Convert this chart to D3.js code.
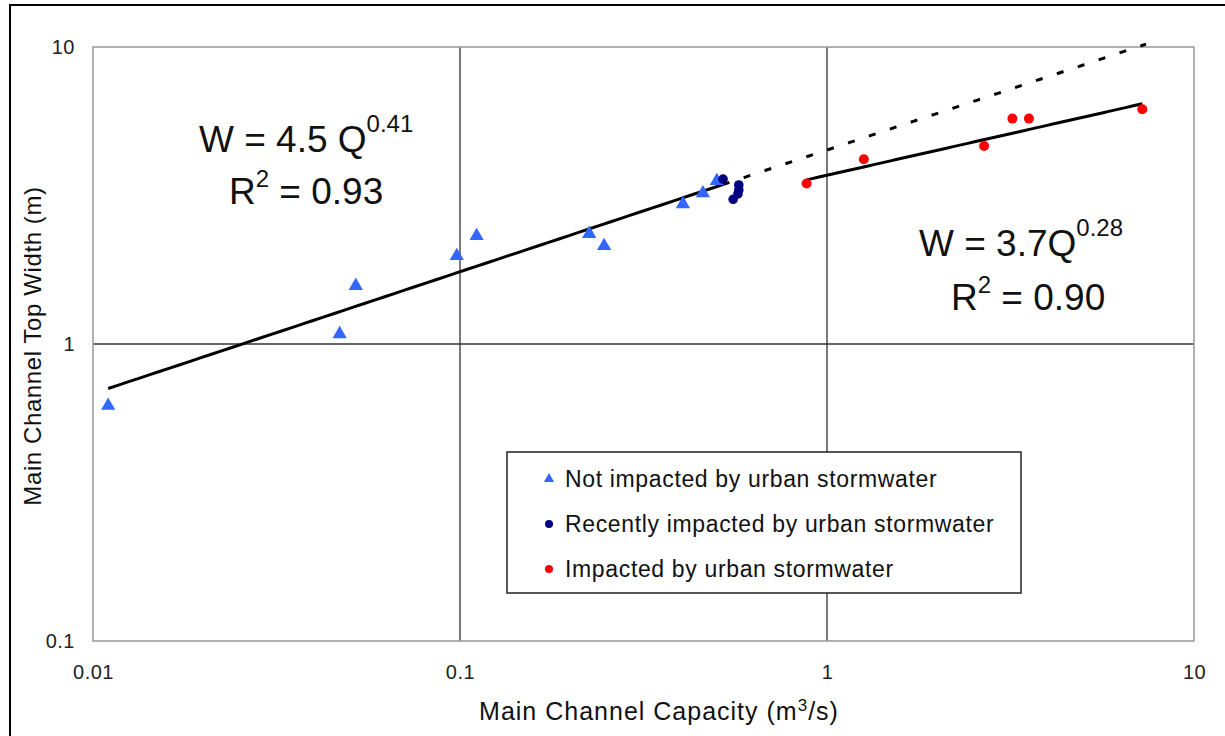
<!DOCTYPE html>
<html>
<head>
<meta charset="utf-8">
<script src="https://cdn.jsdelivr.net/npm/d3@7"></script>
<style>
  body { margin: 0; background: #fff; }
  svg { display: block; font-family: "Liberation Sans", Arial, sans-serif; }
</style>
</head>
<body>
<div id="chart"></div>
<script>
// values
var notImpacted = [
    [0.011, 0.62], [0.047, 1.08], [0.052, 1.57], [0.098, 1.98], [0.111, 2.31],
    [0.225, 2.35], [0.247, 2.14], [0.405, 2.96], [0.459, 3.22], [0.501, 3.54]
]
var recentlyImpacted = [
    [0.521, 3.59], [0.575, 3.43], [0.575, 3.30], [0.572, 3.20], [0.555, 3.07]
]
var impacted = [
    [0.88, 3.47], [1.26, 4.19], [2.68, 4.64], [3.20, 5.74], [3.55, 5.74], [7.23, 6.17]
]
var fit1 = { a: 4.5, b: 0.41, from: 0.011, to: 0.52, dashTo: 7.4 }
var fit2 = { a: 3.7, b: 0.28, from: 0.88, to: 7.23 }
var xTicks = [0.01, 0.1, 1, 10]
var yTicks = [0.1, 1, 10]
var legendLabels = ["Not impacted by urban stormwater", "Recently impacted by urban stormwater", "Impacted by urban stormwater"]

var margin = { top: 47, right: 31, bottom: 95, left: 93 },
    width = 1225 - margin.left - margin.right,
    height = 736 - margin.top - margin.bottom;

var svg = d3.select("#chart")
    .append("svg")
    .attr("width", 1225)
    .attr("height", 736)

// outer chart frame (only top and left edges show)
svg.append("rect")
    .attr("x", 10).attr("y", 5)
    .attr("width", 1240).attr("height", 760)
    .attr("fill", "none").attr("stroke", "#000").attr("stroke-width", 2)

var g = svg.append("g")
    .attr("transform", "translate(" + margin.left + "," + margin.top + ")");

var x = d3.scaleLog().domain([0.01, 10]).range([0, width])
var y = d3.scaleLog().domain([0.1, 10]).range([height, 0])

// grid lines
g.selectAll(".vgrid")
    .data([0.1, 1])
    .enter().append("line")
    .attr("x1", d => x(d)).attr("x2", d => x(d))
    .attr("y1", 0).attr("y2", height)
    .attr("stroke", "#333").attr("stroke-width", 1.3)
g.selectAll(".hgrid")
    .data([1])
    .enter().append("line")
    .attr("x1", 0).attr("x2", width)
    .attr("y1", d => y(d)).attr("y2", d => y(d))
    .attr("stroke", "#333").attr("stroke-width", 1.3)

// plot border
g.append("rect")
    .attr("width", width).attr("height", height)
    .attr("fill", "none").attr("stroke", "#999").attr("stroke-width", 1.5)

// tick labels
g.append("g")
    .attr("transform", "translate(0," + height + ")")
    .call(d3.axisBottom(x).tickValues(xTicks).tickFormat(d3.format("")).tickSize(0).tickPadding(24))
g.append("g")
    .call(d3.axisLeft(y).tickValues(yTicks).tickFormat(d3.format("")).tickSize(0).tickPadding(18))
g.selectAll(".domain").remove()
g.selectAll(".tick text")
    .attr("font-family", "Liberation Sans, Arial, sans-serif")
    .attr("font-size", 20).attr("letter-spacing", 0.5).attr("fill", "#222")

// axis titles
var xt = svg.append("text")
    .attr("x", 659).attr("y", 720)
    .attr("text-anchor", "middle")
    .attr("font-size", 25).attr("letter-spacing", 1).attr("fill", "#111")
xt.append("tspan").text("Main Channel Capacity (m")
xt.append("tspan").attr("dy", -9).attr("font-size", 17).text("3")
xt.append("tspan").attr("dy", 9).text("/s)")

svg.append("text")
    .attr("transform", "translate(41,346) rotate(-90)")
    .attr("text-anchor", "middle")
    .attr("font-size", 24).attr("letter-spacing", 0.6).attr("fill", "#111")
    .text("Main Channel Top Width (m)")

// trend lines
function powerLine(f, lo, hi) {
    var pts = d3.range(0, 61).map(i => {
        var q = Math.exp(Math.log(lo) + (Math.log(hi) - Math.log(lo)) * i / 60)
        return [q, f.a * Math.pow(q, f.b)]
    })
    return d3.line().x(d => x(d[0])).y(d => y(d[1]))(pts)
}
g.append("path")
    .attr("d", powerLine(fit1, fit1.from, fit1.to))
    .attr("fill", "none").attr("stroke", "#000").attr("stroke-width", 3)
g.append("path")
    .attr("d", powerLine(fit1, fit1.to, fit1.dashTo))
    .attr("fill", "none").attr("stroke", "#000").attr("stroke-width", 3)
    .attr("stroke-dasharray", "7,15")
g.append("path")
    .attr("d", powerLine(fit2, fit2.from, fit2.to))
    .attr("fill", "none").attr("stroke", "#000").attr("stroke-width", 3)

// points
var tri = d3.symbol().type(d3.symbolTriangle).size(88)
g.selectAll(".tri")
    .data(notImpacted)
    .enter().append("path")
    .attr("d", tri)
    .attr("transform", d => "translate(" + x(d[0]) + "," + y(d[1]) + ")")
    .attr("fill", "#3366ff")
g.selectAll(".navy")
    .data(recentlyImpacted)
    .enter().append("circle")
    .attr("cx", d => x(d[0])).attr("cy", d => y(d[1]))
    .attr("r", 4.8).attr("fill", "#000080")
g.selectAll(".red")
    .data(impacted)
    .enter().append("circle")
    .attr("cx", d => x(d[0])).attr("cy", d => y(d[1]))
    .attr("r", 5).attr("fill", "#ff0000")

// equations
function equation(xp, yp, main, sup, xp2, yp2, r2) {
    var t = svg.append("text").attr("x", xp).attr("y", yp)
        .attr("font-size", 37).attr("fill", "#111")
    t.append("tspan").text(main)
    t.append("tspan").attr("dy", -20).attr("font-size", 24).text(sup)
    var t2 = svg.append("text").attr("x", xp2).attr("y", yp2)
        .attr("font-size", 37).attr("fill", "#111")
    t2.append("tspan").text("R")
    t2.append("tspan").attr("dy", -17).attr("font-size", 24).text("2")
    t2.append("tspan").attr("dy", 17).text(" = " + r2)
}
equation(199, 152, "W = 4.5 Q", "0.41", 229, 204, "0.93")
equation(919, 256, "W = 3.7Q", "0.28", 951, 310, "0.90")

// legend
var legend = svg.append("g")
legend.append("rect")
    .attr("x", 507).attr("y", 452).attr("width", 514).attr("height", 141)
    .attr("fill", "#fff").attr("stroke", "#222").attr("stroke-width", 1.5)
var legendY = [476, 521, 566]
legend.append("path")
    .attr("d", d3.symbol().type(d3.symbolTriangle).size(45))
    .attr("transform", "translate(549," + (legendY[0] + 3) + ")")
    .attr("fill", "#3366ff")
legend.append("circle").attr("cx", 549).attr("cy", legendY[1] + 3).attr("r", 4).attr("fill", "#000080")
legend.append("circle").attr("cx", 549).attr("cy", legendY[2] + 3).attr("r", 4).attr("fill", "#ff0000")
legend.selectAll(".ltext")
    .data(legendLabels)
    .enter().append("text")
    .attr("x", 565).attr("y", (d, i) => legendY[i] + 11)
    .attr("font-size", 23).attr("letter-spacing", 0.65).attr("fill", "#111")
    .text(d => d)
</script>
</body>
</html>
